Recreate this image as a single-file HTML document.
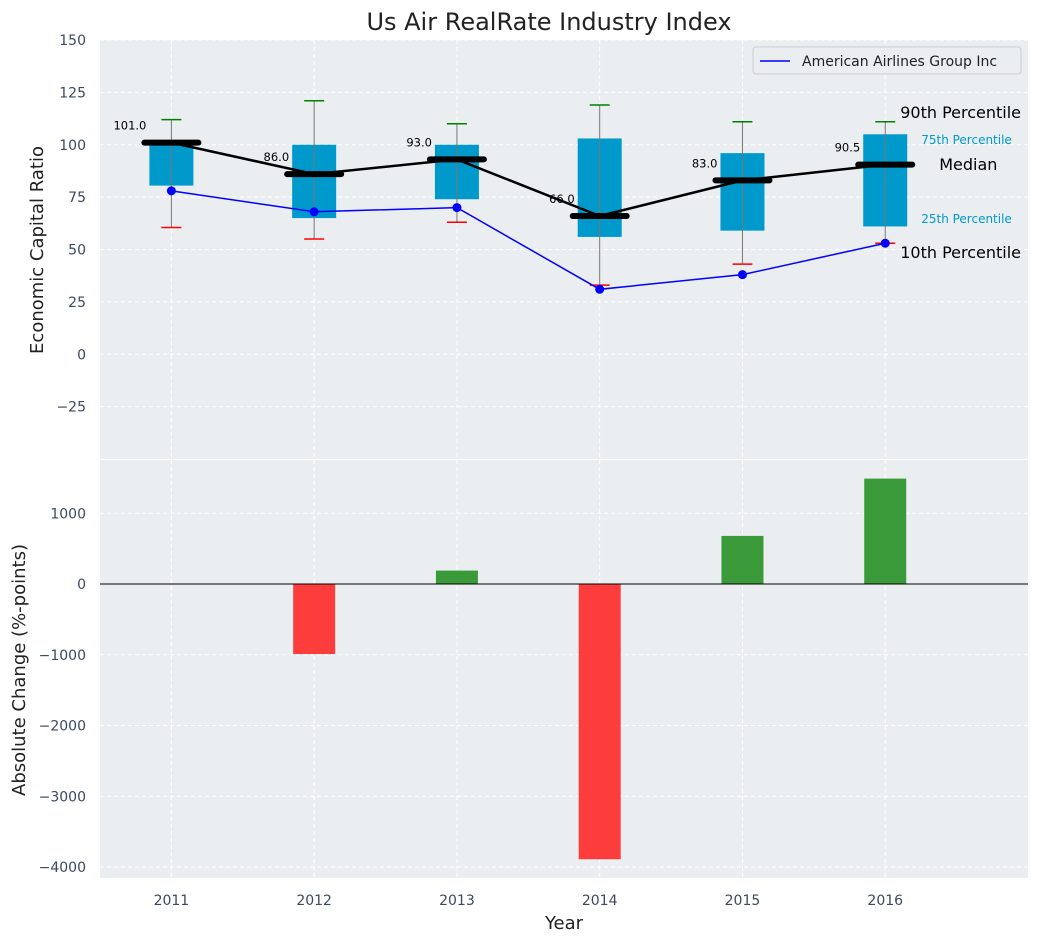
<!DOCTYPE html>
<html><head><meta charset="utf-8"><style>
body{margin:0;background:#fff;font-family:"Liberation Sans","DejaVu Sans",sans-serif}
svg text{font-family:"DejaVu Sans","Liberation Sans",sans-serif}
</style></head><body>
<svg id="chart" width="1039" height="942" xmlns="http://www.w3.org/2000/svg"></svg>
<script>
const years=[2011,2012,2013,2014,2015,2016];
const p10=[60.5,55,63,33,43,53];
const p25=[80.5,65,74,56,59,61];
const medians=[101,86,93,66,83,90.5];
const p75=[101.5,100,100,103,96,105];
const p90=[112,121,110,119,111,111];
const airline=[78,68,70,31,38,53];
const changes=[0,-990,190,-3890,680,1490];
const topTicks=[-25,0,25,50,75,100,125,150];
const botTicks=[-4000,-3000,-2000,-1000,0,1000];

const NS="http://www.w3.org/2000/svg";
const svg=document.getElementById('chart');
function el(t,a,p){const e=document.createElementNS(NS,t);for(const k in a)e.setAttribute(k,a[k]);(p||svg).appendChild(e);return e;}
const L=100,R=1028;
const x=v=>L+(v-2010.5)/(6.5)*(R-L);
const yT=v=>40+(150-v)/200*(459-40);
const yB=v=>460+(1753-v)/(1753+4155)*(878-460);
const tick="#3b4a5e";

let bg=el('rect',{x:L,y:40,width:R-L,height:419,fill:'#eaeef0'});

let bg2=el('rect',{x:L,y:460,width:R-L,height:418,fill:'#eaeef0'});


years.forEach(yr=>{
  el('line',{x1:x(yr),x2:x(yr),y1:40,y2:459,stroke:'#fff','stroke-dasharray':'4,3'});
  el('line',{x1:x(yr),x2:x(yr),y1:460,y2:878,stroke:'#fff','stroke-dasharray':'4,3'});
  const t=el('text',{x:x(yr),y:905,'text-anchor':'middle','font-size':14,fill:tick});t.textContent=yr;
  
});
topTicks.forEach(v=>{
  el('line',{x1:L,x2:R,y1:yT(v),y2:yT(v),stroke:'#fff','stroke-dasharray':'4,3'});
  const t=el('text',{x:86,y:yT(v)+5,'text-anchor':'end','font-size':14,fill:tick});t.textContent=v<0?'\u2212'+(-v):v;
  
});
botTicks.forEach(v=>{
  el('line',{x1:L,x2:R,y1:yB(v),y2:yB(v),stroke:'#fff','stroke-dasharray':'4,3'});
  const t=el('text',{x:86,y:yB(v)+5,'text-anchor':'end','font-size':14,fill:tick});t.textContent=v<0?'\u2212'+(-v):v;
  
});

years.forEach((yr,i)=>{
  const cx=x(yr),bw=44;
  const b=el('rect',{x:cx-bw/2,y:yT(p75[i]),width:bw,height:yT(p25[i])-yT(p75[i]),fill:'#0099cc'});
  
  el('line',{x1:cx,x2:cx,y1:yT(p90[i]),y2:yT(p10[i]),stroke:'#777','stroke-width':1});
  el('line',{x1:cx-10,x2:cx+10,y1:yT(p90[i]),y2:yT(p90[i]),stroke:'green','stroke-width':1.5});
  el('line',{x1:cx-10,x2:cx+10,y1:yT(p10[i]),y2:yT(p10[i]),stroke:'red','stroke-width':1.5});
});
let mp=el('polyline',{points:years.map((yr,i)=>x(yr)+','+yT(medians[i])).join(' '),fill:'none',stroke:'#000','stroke-width':2.5});

years.forEach((yr,i)=>{
  const m=el('line',{x1:x(yr)-27,x2:x(yr)+27,y1:yT(medians[i]),y2:yT(medians[i]),stroke:'#000','stroke-width':6,'stroke-linecap':'round'});
  
  const t=el('text',{x:x(yr)-25,y:yT(medians[i])-13,'text-anchor':'end','font-size':11.5,fill:'#000'});t.textContent=medians[i].toFixed(1);
  
});
let al=el('polyline',{points:years.map((yr,i)=>x(yr)+','+yT(airline[i])).join(' '),fill:'none',stroke:'blue','stroke-width':1.5});

years.forEach((yr,i)=>{const c=el('circle',{cx:x(yr),cy:yT(airline[i]),r:4.5,fill:'blue'});
  });

const ax=x(years[5]);
[['90th Percentile',ax+15,118,16,'#000'],['75th Percentile',ax+36,144,12,'#0099cc'],['Median',ax+54,170,16,'#000'],['25th Percentile',ax+36,223,12,'#0099cc'],['10th Percentile',ax+15,258,16,'#000']].forEach(a=>{
  const t=el('text',{x:a[1],y:a[2],'font-size':a[3],fill:a[4]});t.textContent=a[0];
  
});

const lg=el('g',{});
el('rect',{x:753,y:47,width:268,height:27,rx:3,fill:'#eaeef0',stroke:'#ccc'},lg);
el('line',{x1:760,x2:790,y1:61,y2:61,stroke:'blue','stroke-width':1.5},lg);
const lt=el('text',{x:802,y:66,'font-size':14,fill:'#222'},lg);lt.textContent='American Airlines Group Inc';

years.forEach((yr,i)=>{
  const v=changes[i];if(v===0)return;
  const y0=yB(Math.max(v,0)),y1=yB(Math.min(v,0));
  const r=el('rect',{x:x(yr)-21,y:y0,width:42,height:y1-y0,fill:v>0?'#3a9a3a':'#fd3c3c'});
  
});
el('line',{x1:L,x2:R,y1:yB(0),y2:yB(0),stroke:'#000','stroke-width':1});

let tt=el('text',{x:549,y:30,'text-anchor':'middle','font-size':24,fill:'#222'});tt.textContent='Us Air RealRate Industry Index';

let yl=el('text',{x:0,y:0,'text-anchor':'middle','font-size':18,fill:'#222',transform:'translate(43,250) rotate(-90)'});yl.textContent='Economic Capital Ratio';

let yl2=el('text',{x:0,y:0,'text-anchor':'middle','font-size':18,fill:'#222',transform:'translate(25,670) rotate(-90)'});yl2.textContent='Absolute Change (%-points)';

let xl=el('text',{x:564,y:929,'text-anchor':'middle','font-size':18,fill:'#222'});xl.textContent='Year';

</script>
</body></html>
